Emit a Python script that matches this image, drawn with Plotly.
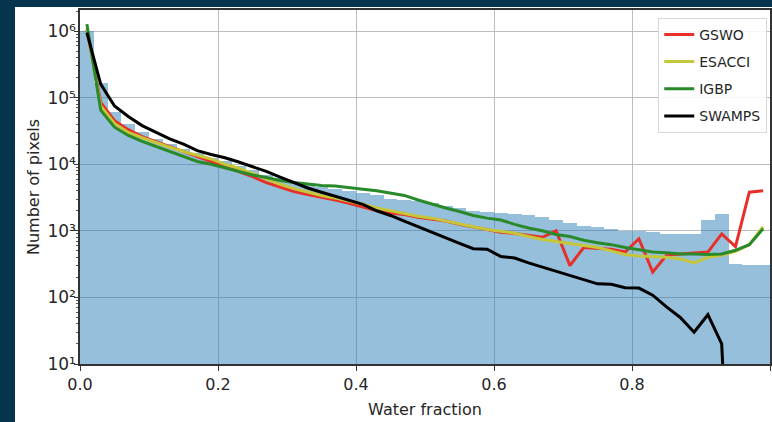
import plotly.graph_objects as go

# ---- data ----
bin_centers = [round(0.01 + 0.02 * i, 2) for i in range(50)]

hist_counts = [
    1.0e6, 1.65e5, 6.0e4, 4.0e4, 3.0e4, 2.4e4, 2.0e4, 1.7e4, 1.45e4, 1.25e4,
    1.1e4, 9.5e3, 8.2e3, 7.0e3, 6.2e3, 5.5e3, 4.9e3, 4.5e3, 4.2e3, 4.0e3,
    3.7e3, 3.5e3, 3.0e3, 2.9e3, 2.8e3, 2.6e3, 2.4e3, 2.2e3, 2.0e3, 1.9e3,
    1.85e3, 1.8e3, 1.75e3, 1.6e3, 1.45e3, 1.3e3, 1.2e3, 1.15e3, 1.05e3, 1.0e3,
    1.0e3, 950, 900, 900, 900, 1.45e3, 1.8e3, 320, 310, 310,
]

gswo = [
    1.05e6, 8.5e4, 4.5e4, 3.3e4, 2.6e4, 2.2e4, 1.85e4, 1.55e4, 1.3e4, 1.1e4,
    9.2e3, 7.8e3, 6.5e3, 5.3e3, 4.5e3, 3.9e3, 3.5e3, 3.2e3, 2.9e3, 2.6e3,
    2.3e3, 2.0e3, 1.85e3, 1.75e3, 1.6e3, 1.5e3, 1.4e3, 1.25e3, 1.15e3, 1.05e3,
    950, 910, 860, 800, 1000, 300, 560, 540, 530, 480,
    760, 240, 430, 450, 460, 480, 900, 580, 3.8e3, 4.0e3,
]

esacci = [
    1.1e6, 7.5e4, 4.1e4, 3.0e4, 2.5e4, 2.1e4, 1.8e4, 1.55e4, 1.35e4, 1.2e4,
    1.0e4, 8.7e3, 7.3e3, 6.0e3, 5.0e3, 4.3e3, 3.8e3, 3.4e3, 3.1e3, 2.8e3,
    2.5e3, 2.2e3, 2.0e3, 1.8e3, 1.65e3, 1.55e3, 1.4e3, 1.25e3, 1.15e3, 1.05e3,
    980, 920, 820, 740, 690, 640, 600, 560, 500, 440,
    420, 410, 400, 380, 330, 400, 430, 490, 620, 1.15e3,
]

igbp = [
    1.27e6, 6.5e4, 3.6e4, 2.7e4, 2.2e4, 1.85e4, 1.55e4, 1.3e4, 1.1e4, 1.0e4,
    8.8e3, 7.8e3, 6.9e3, 6.3e3, 5.7e3, 5.3e3, 5.0e3, 4.8e3, 4.7e3, 4.5e3,
    4.2e3, 4.0e3, 3.7e3, 3.4e3, 2.9e3, 2.5e3, 2.2e3, 1.95e3, 1.7e3, 1.55e3,
    1.45e3, 1.25e3, 1.1e3, 1.0e3, 880, 820, 720, 660, 620, 560,
    520, 480, 470, 450, 450, 440, 450, 510, 620, 1.07e3,
]

# SWAMPS: zero counts above 0.94 (0.95 given as ~0 so the line drops off the axis)
swamps = [
    9.5e5, 1.6e5, 7.5e4, 5.2e4, 3.8e4, 3.0e4, 2.4e4, 2.0e4, 1.6e4, 1.4e4,
    1.25e4, 1.08e4, 9.2e3, 7.8e3, 6.4e3, 5.3e3, 4.4e3, 3.8e3, 3.3e3, 2.9e3,
    2.5e3, 2.0e3, 1.7e3, 1.4e3, 1.15e3, 950, 780, 650, 540, 530,
    410, 390, 330, 285, 250, 215, 185, 160, 158, 140,
    138, 108, 72, 50, 30, 55, 20, 1e-3, None, None,
]

series_names = ["GSWO", "ESACCI", "IGBP", "SWAMPS"]
series_colors = ["#e8302a", "#c6c63a", "#2a8a2a", "#000000"]

y_tick_vals = [1e1, 1e2, 1e3, 1e4, 1e5, 1e6]
y_tick_text = ["10¹", "10²", "10³", "10⁴", "10⁵", "10⁶"]
y_minor_vals = [m * 10 ** e for e in range(1, 7) for m in range(2, 10)]
x_tick_vals = [0.0, 0.2, 0.4, 0.6, 0.8, 1.0]
x_tick_text = ["0.0", "0.2", "0.4", "0.6", "0.8", "1.0"]

FONT = "DejaVu Sans, sans-serif"

fig = go.Figure()

fig.add_trace(go.Bar(
    x=bin_centers, y=hist_counts, width=0.02,
    marker=dict(color="rgba(31,119,180,0.47)", line=dict(width=0)),
    showlegend=False, hoverinfo="skip",
))

for name, vals, col in zip(series_names, [gswo, esacci, igbp, swamps], series_colors):
    fig.add_trace(go.Scatter(
        x=bin_centers, y=vals, mode="lines", name=name, legendgroup=name,
        line=dict(color=col, width=3),
    ))

fig.update_layout(
    width=772, height=422,
    margin=dict(l=80, r=2, t=10, b=58, autoexpand=False),
    paper_bgcolor="white", plot_bgcolor="white",
    font=dict(family=FONT, size=16, color="#262626"),
    bargap=0,
    showlegend=True,
    legend=dict(
        x=0.996, y=0.978, xanchor="right", yanchor="top",
        bgcolor="rgba(255,255,255,0.85)", bordercolor="#d8d8d8", borderwidth=1,
        font=dict(family=FONT, size=14, color="#262626"),
        itemwidth=30, tracegroupgap=6,
    ),
    xaxis=dict(
        range=[0, 1], tickvals=x_tick_vals, ticktext=x_tick_text,
        showgrid=True, gridcolor="#bdbdbd", gridwidth=1,
        showline=True, linecolor="#333333", linewidth=1.5, mirror=True,
        ticks="outside", ticklen=5, tickcolor="#333333",
        title=dict(text="Water fraction", font=dict(size=16), standoff=11),
        zeroline=False,
    ),
    yaxis=dict(
        type="log", range=[1, 6.316],
        tickvals=y_tick_vals, ticktext=y_tick_text,
        tickfont=dict(size=17),
        showgrid=True, gridcolor="#bdbdbd", gridwidth=1,
        showline=True, linecolor="#333333", linewidth=1.5, mirror=True,
        ticks="outside", ticklen=4, tickcolor="#333333",
        ticklabelstandoff=-5,
        minor=dict(tickvals=y_minor_vals, ticks="outside", ticklen=2,
                   tickcolor="#555555", showgrid=False),
        title=dict(text="Number of pixels", font=dict(size=16), standoff=4),
        zeroline=False,
    ),
    shapes=[
        dict(type="rect", xref="paper", yref="paper",
             x0=-0.2, x1=(15 - 80) / 690, y0=-0.3, y1=1.2,
             fillcolor="#06344f", line=dict(width=0), layer="above"),
        dict(type="rect", xref="paper", yref="paper",
             x0=-0.2, x1=1.2, y0=(364 - 7) / 354, y1=1.2,
             fillcolor="#06344f", line=dict(width=0), layer="above"),
    ],
)

fig.write_html(
    "out.html",
    config={"displayModeBar": False},
    post_script="document.body.style.margin='0';document.body.style.overflow='hidden';",
)
